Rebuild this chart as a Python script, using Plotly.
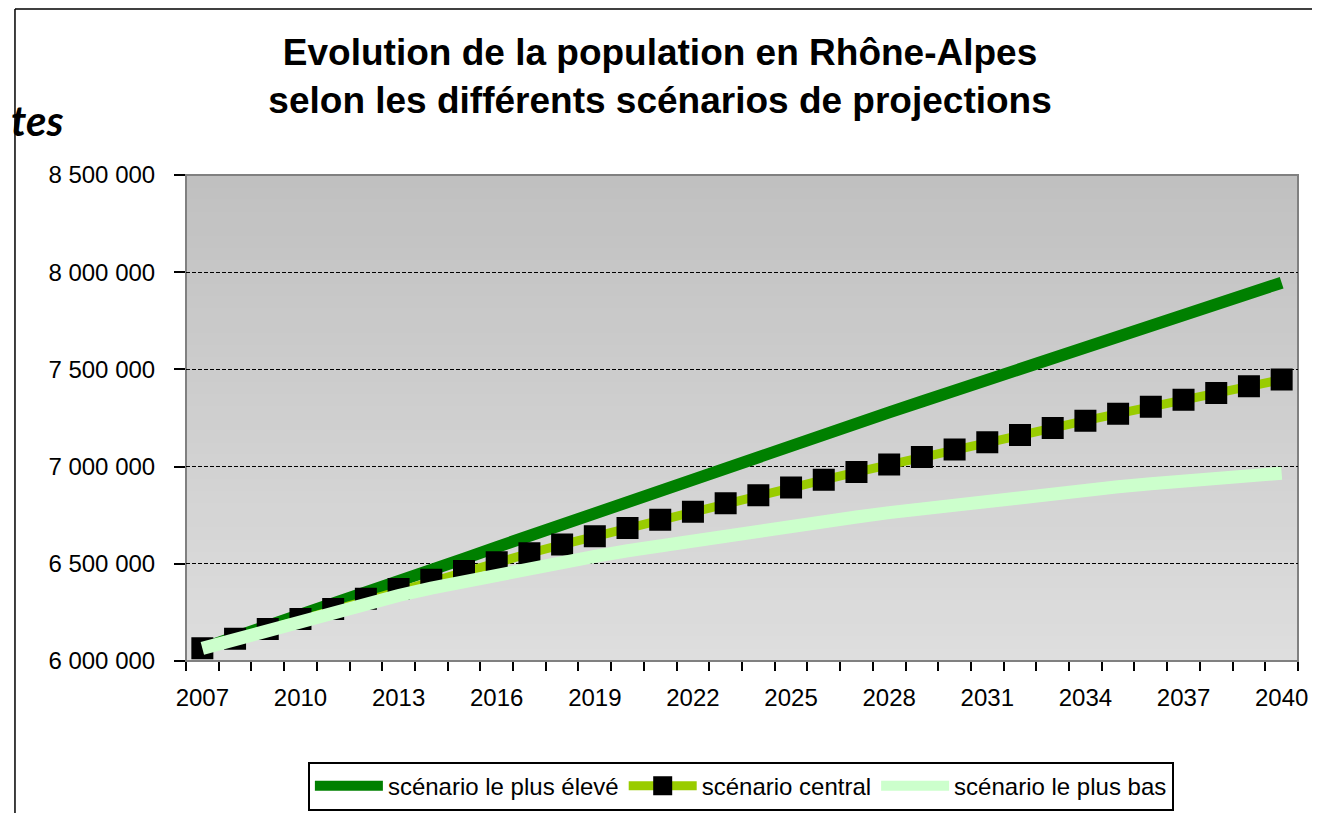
import plotly.graph_objects as go

# ---- data ----
years = list(range(2007, 2041))
scenario_haut = [6065000, 6121000, 6178000, 6235000, 6293000, 6351000, 6409000, 6468000, 6527000, 6586000,
                 6645000, 6704000, 6763000, 6822000, 6881000, 6940000, 6999000, 7055000, 7111000, 7167000,
                 7223000, 7279000, 7335000, 7391000, 7446000, 7501000, 7556000, 7611000, 7666000, 7722000,
                 7778000, 7834000, 7890000, 7946000]
scenario_central = [6065000, 6114000, 6164000, 6216000, 6268000, 6320000, 6370000, 6418000, 6463000, 6508000,
                    6554000, 6599000, 6642000, 6684000, 6726000, 6768000, 6811000, 6852000, 6892000, 6932000,
                    6972000, 7011000, 7050000, 7088000, 7125000, 7162000, 7199000, 7236000, 7272000, 7308000,
                    7344000, 7379000, 7413000, 7448000]
scenario_bas = [6065000, 6112000, 6160000, 6205000, 6250000, 6295000, 6337000, 6375000, 6411000, 6445000,
                6477000, 6508000, 6538000, 6567000, 6594000, 6621000, 6646000, 6671000, 6695000, 6718000,
                6741000, 6763000, 6784000, 6805000, 6825000, 6844000, 6862000, 6880000, 6896000, 6912000,
                6927000, 6941000, 6954000, 6966000]
x_tick_years = list(range(2007, 2041, 3))
y_tick_vals = [6000000, 6500000, 7000000, 7500000, 8000000, 8500000]
y_tick_text = ["6 000 000", "6 500 000", "7 000 000", "7 500 000", "8 000 000", "8 500 000"]
series_names = ["scénario le plus élevé", "scénario central", "scénario le plus bas"]
title_text = "Evolution de la population en Rhône-Alpes<br>selon les différents scénarios de projections"

FONT = "Liberation Sans, Arial, sans-serif"

fig = go.Figure()
fig.add_trace(go.Scatter(x=years, y=scenario_haut, name=series_names[0], mode="lines",
                         line=dict(color="#008000", width=12)))
fig.add_trace(go.Scatter(x=years, y=scenario_central, name=series_names[1], mode="lines+markers",
                         line=dict(color="#99CC00", width=9),
                         marker=dict(symbol="square", size=19, color="#000000",
                                     line=dict(color="#000000", width=3))))
fig.add_trace(go.Scatter(x=years, y=scenario_bas, name=series_names[2], mode="lines",
                         line=dict(color="#CCFFCC", width=13)))

# gradient background of the plot area
shapes = []
n = 40
top = (192, 192, 192)
bot = (222, 222, 222)
for i in range(n):
    t = (i + 0.5) / n
    c = [round(bot[k] + (top[k] - bot[k]) * t) for k in range(3)]
    shapes.append(dict(type="rect", xref="x domain", yref="y domain",
                       x0=0, x1=1, y0=i / n, y1=(i + 1) / n + 0.002,
                       fillcolor=f"rgb({c[0]},{c[1]},{c[2]})", line=dict(width=0), layer="below"))
# plot-area border
shapes.append(dict(type="rect", xref="x domain", yref="y domain", x0=0, x1=1, y0=0, y1=1,
                   line=dict(color="#808080", width=2), layer="below"))
# chart border (left and top)
shapes.append(dict(type="line", xref="paper", yref="paper", x0=-0.1538, x1=-0.1538, y0=-0.32, y1=1.3416,
                   line=dict(color="#000000", width=1.5)))
shapes.append(dict(type="line", xref="paper", yref="paper", x0=-0.1538, x1=1.03, y0=1.3416, y1=1.3416,
                   line=dict(color="#000000", width=1.5)))

fig.update_layout(
    width=1312, height=805,
    margin=dict(l=178, r=22, t=167, b=152, autoexpand=False),
    paper_bgcolor="#ffffff",
    plot_bgcolor="#d0d0d0",
    font=dict(family=FONT, color="#000000", size=22),
    title=dict(text=title_text, x=0.497, xanchor="center", y=0.929, yanchor="middle",
               xref="container", yref="container",
               font=dict(family=FONT, size=37, color="#000000", weight="bold")),
    shapes=shapes,
    showlegend=True,
    legend=dict(orientation="h", x=0.499, xanchor="center", xref="paper",
                y=0.0335, yanchor="middle", yref="container",
                bgcolor="#ffffff", bordercolor="#000000", borderwidth=2,
                font=dict(family=FONT, size=24, color="#000000"),
                itemwidth=68, tracegroupgap=0, traceorder="normal"),
    annotations=[dict(text="<b><i>tes</i></b>", xref="paper", yref="paper", x=-0.159, xanchor="left",
                      y=1.113, yanchor="middle", showarrow=False,
                      font=dict(family="Lato, Open Sans, sans-serif", size=42, color="#000000",
                                weight="bold"))],
)

fig.update_xaxes(
    range=[2006.5, 2040.5], tickmode="array", tickvals=x_tick_years,
    ticks="outside", ticklen=10, tickcolor="rgba(0,0,0,0)", ticklabelstandoff=5,
    tickfont=dict(family=FONT, size=24, color="#000000"),
    showgrid=False, zeroline=False, showline=False,
    minor=dict(tickmode="linear", tick0=2006.5, dtick=1, ticks="outside", ticklen=9,
               tickcolor="#000000", tickwidth=1.5, showgrid=False),
)
fig.update_yaxes(
    range=[6000000, 8500000], tickmode="array", tickvals=y_tick_vals, ticktext=y_tick_text,
    ticks="outside", ticklen=11, tickcolor="#000000", tickwidth=1.5, ticklabelstandoff=14,
    tickfont=dict(family=FONT, size=24, color="#000000"),
    showgrid=True, gridcolor="#000000", gridwidth=1, griddash="4px,2px",
    zeroline=False, showline=False,
)

fig.write_html("out.html")
